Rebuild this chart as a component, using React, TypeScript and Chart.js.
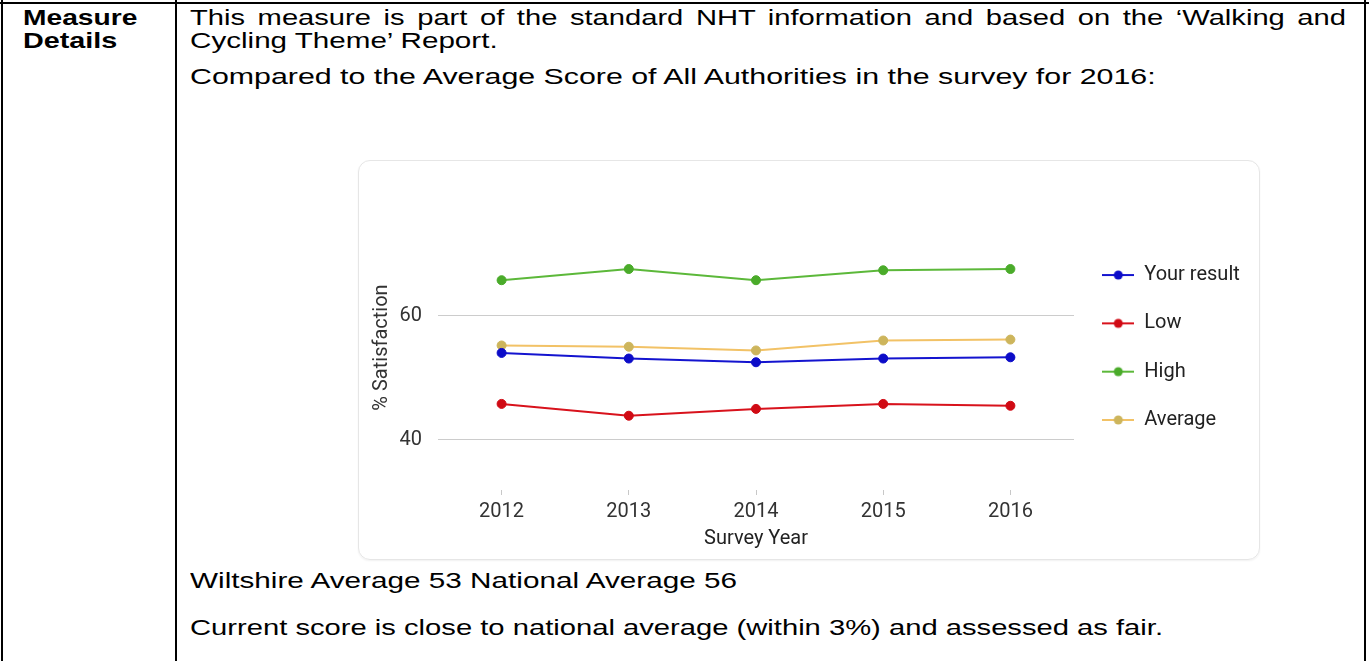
import React, { useEffect, useLayoutEffect, useRef } from 'react';
import { Chart, registerables } from 'chart.js';

Chart.register(...registerables);

// ---- chart data ----
const YEARS = ['2012', '2013', '2014', '2015', '2016'];
const YOUR_RESULT = [54.0, 53.1, 52.5, 53.1, 53.3];
const LOW = [45.8, 43.9, 45.0, 45.8, 45.5];
const HIGH = [65.7, 67.5, 65.7, 67.3, 67.5];
const AVERAGE = [55.2, 55.0, 54.4, 56.0, 56.15];
const SERIES_NAMES = ['Your result', 'Low', 'High', 'Average'];
const Y_TICKS = [40, 60];
const Y_MIN = 31.95;
const Y_MAX = 77.8;

const LINE_COLORS = ['#1414cf', '#d8121c', '#5cb83a', '#f2c266'];
const POINT_COLORS = ['#0c0cc8', '#d00a14', '#4aab2a', '#cdb55c'];

// horizontal stretch of the document text in the reference
const S = 1.355;

const FONT_DOC = '"Liberation Sans", Arial, sans-serif';
const FONT_CHART = 'Roboto, "Liberation Sans", Arial, sans-serif';

const CANVAS_W = 904;
const CANVAS_H = 400;
const LEGEND_W = 180;

function makeIcon(line: string, point: string): HTMLCanvasElement {
  const c = document.createElement('canvas');
  c.width = 32;
  c.height = 12;
  const ctx = c.getContext('2d')!;
  ctx.strokeStyle = line;
  ctx.lineWidth = 2;
  ctx.beginPath();
  ctx.moveTo(0, 6);
  ctx.lineTo(32, 6);
  ctx.stroke();
  ctx.fillStyle = point;
  ctx.beginPath();
  ctx.arc(16, 6, 4.5, 0, Math.PI * 2);
  ctx.fill();
  return c;
}

const baseText: React.CSSProperties = {
  position: 'absolute',
  transformOrigin: '0 0',
  fontFamily: FONT_DOC,
  fontSize: 21.5,
  lineHeight: '24px',
  color: '#000',
};

// single-line text stretched horizontally to the width it has in the reference
type TProps = { x: number; y: number; target: number; bold?: boolean; children: React.ReactNode };
const T = ({ x, y, target, bold, children }: TProps) => {
  const r = useRef<HTMLDivElement | null>(null);
  useLayoutEffect(() => {
    const el = r.current;
    if (!el) return;
    const w = el.offsetWidth;
    if (w > 0) el.style.transform = `scaleX(${target / w})`;
  }, [target]);
  return (
    <div
      ref={r}
      style={{
        ...baseText,
        left: x,
        top: y,
        whiteSpace: 'nowrap',
        fontWeight: bold ? 700 : 400,
        transform: `scaleX(${S})`,
      }}
    >
      {children}
    </div>
  );
};

// justified line filling a given page width
const J = ({ x, y, w, children }: { x: number; y: number; w: number; children: React.ReactNode }) => (
  <div
    style={{
      ...baseText,
      left: x,
      top: y,
      width: w / S,
      transform: `scaleX(${S})`,
      whiteSpace: 'normal',
      textAlign: 'justify',
      textAlignLast: 'justify',
    } as React.CSSProperties}
  >
    {children}
  </div>
);

const Line = ({ x, y, w, h }: { x: number; y: number; w: number; h: number }) => (
  <div style={{ position: 'absolute', left: x, top: y, width: w, height: h, background: '#000' }} />
);

// keeps the legend box at a fixed width so the plot area matches the reference
const fixLegendWidth = {
  id: 'fixLegendWidth',
  beforeUpdate(chart: any) {
    const lg = chart.legend;
    if (lg && !lg.__patched) {
      const orig = lg.fit.bind(lg);
      lg.fit = () => {
        orig();
        lg.width = LEGEND_W;
      };
      lg.__patched = true;
    }
  },
};

function LineChart() {
  const ref = useRef<HTMLCanvasElement | null>(null);
  useEffect(() => {
    if (!ref.current) return;
    const icons = LINE_COLORS.map((c, i) => makeIcon(c, POINT_COLORS[i]));
    const series = [YOUR_RESULT, LOW, HIGH, AVERAGE];
    const font = { family: FONT_CHART, size: 20 };
    const chart = new Chart(ref.current, {
      type: 'line',
      data: {
        labels: YEARS,
        datasets: series.map((d, i) => ({
          label: SERIES_NAMES[i],
          data: d,
          borderColor: LINE_COLORS[i],
          backgroundColor: POINT_COLORS[i],
          pointBackgroundColor: POINT_COLORS[i],
          pointBorderColor: POINT_COLORS[i],
          pointBorderWidth: 1,
          pointRadius: 4.5,
          borderWidth: 2,
          tension: 0,
        })),
      },
      options: {
        responsive: false,
        animation: false,
        layout: { padding: { left: 0, right: CANVAS_W - 716 - LEGEND_W, top: 45, bottom: 9 } },
        plugins: {
          tooltip: { enabled: false },
          legend: {
            position: 'right',
            align: 'center',
            fullSize: false,
            labels: {
              usePointStyle: true,
              pointStyleWidth: 32,
              padding: 28.3,
              color: '#222',
              font,
              generateLabels: (c: any) =>
                (Chart.defaults.plugins.legend.labels as any)
                  .generateLabels(c)
                  .map((it: any, i: number) => ({ ...it, pointStyle: icons[i] })),
            },
          },
        },
        scales: {
          x: {
            offset: true,
            grid: { display: true, drawOnChartArea: false, drawTicks: true, tickLength: 5, color: '#c8c8c8' },
            border: { display: false },
            ticks: { padding: 5, color: '#333', font },
            title: { display: true, text: 'Survey Year', color: '#222', font, padding: { top: 0, bottom: 0 } },
            afterFit: (s: any) => {
              s.height = 61;
            },
          },
          y: {
            min: Y_MIN,
            max: Y_MAX,
            afterBuildTicks: (s: any) => {
              s.ticks = Y_TICKS.map((v) => ({ value: v }));
            },
            grid: { color: '#cccccc', drawTicks: false },
            border: { display: false },
            ticks: { padding: 16, color: '#333', font },
            title: { display: true, text: '% Satisfaction', color: '#333', font, padding: { top: 12, bottom: 0 } },
            afterFit: (s: any) => {
              s.width = 80;
            },
          },
        },
      } as any,
      plugins: [fixLegendWidth],
    });
    return () => chart.destroy();
  }, []);
  return (
    <canvas
      ref={ref}
      width={CANVAS_W}
      height={CANVAS_H}
      style={{ position: 'absolute', left: 358, top: 160, width: CANVAS_W, height: CANVAS_H }}
    />
  );
}

export default function App() {
  return (
    <div
      style={{
        position: 'fixed',
        left: 0,
        top: 0,
        width: 1369,
        height: 661,
        overflow: 'hidden',
        background: '#fff',
      }}
    >
      {/* table borders */}
      <Line x={0} y={2} w={1369} h={2} />
      <Line x={1} y={0} w={2} h={661} />
      <Line x={175} y={0} w={2} h={661} />
      <Line x={1364} y={0} w={2} h={661} />

      {/* left column heading */}
      <T x={23} y={6} target={114} bold>Measure</T>
      <T x={23} y={29} target={95} bold>Details</T>

      {/* right column */}
      <J x={190} y={6} w={1156}>
        This measure is part of the standard NHT information and based on the ‘Walking and
      </J>
      <T x={190} y={29} target={307}>Cycling Theme’ Report.</T>
      <T x={190} y={65} target={965}>Compared to the Average Score of All Authorities in the survey for 2016:</T>

      {/* chart card */}
      <div
        style={{
          position: 'absolute',
          left: 358,
          top: 160,
          width: 900,
          height: 398,
          border: '1px solid #e6e6e6',
          borderRadius: 12,
          boxShadow: '0 1px 2px rgba(0,0,0,0.06)',
        }}
      />
      <LineChart />

      <T x={190} y={569} target={547}>Wiltshire Average 53 National Average 56</T>
      <T x={190} y={616} target={973}>Current score is close to national average (within 3%) and assessed as fair.</T>
    </div>
  );
}
